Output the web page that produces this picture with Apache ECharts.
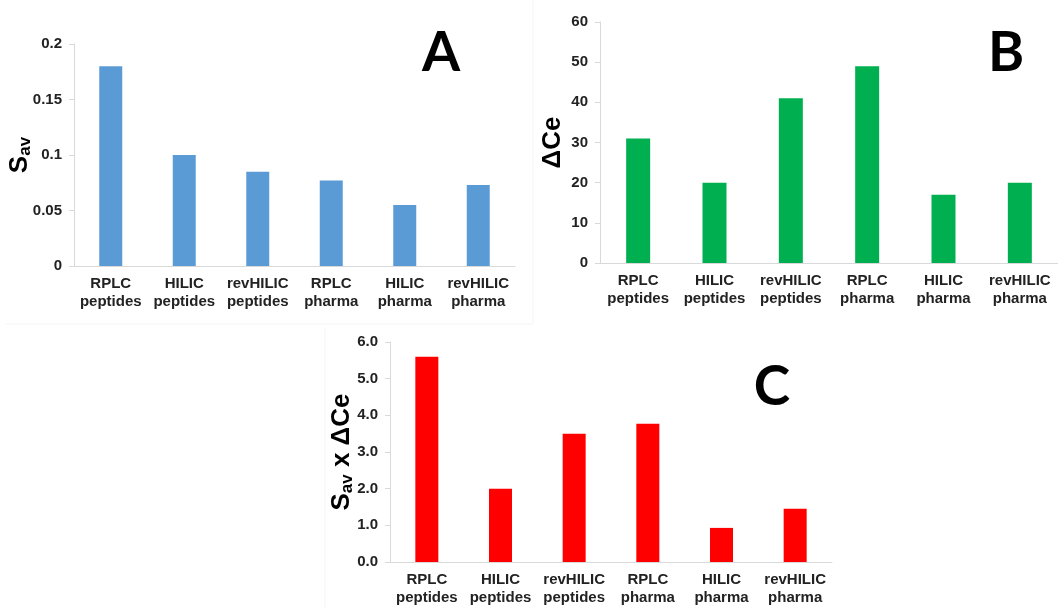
<!DOCTYPE html>
<html>
<head>
<meta charset="utf-8">
<script src="https://cdn.jsdelivr.net/npm/echarts@6/dist/echarts.min.js"></script>
<style>
  html, body { margin: 0; padding: 0; background: #fff; }
  #chart { width: 1058px; height: 607px; }
</style>
</head>
<body>
<div id="chart"></div>
<script>
const categories = ['RPLC\npeptides', 'HILIC\npeptides', 'revHILIC\npeptides', 'RPLC\npharma', 'HILIC\npharma', 'revHILIC\npharma']
const sav = [0.18, 0.10, 0.085, 0.077, 0.055, 0.073]
const deltaCe = [31, 20, 41, 49, 17, 20]
const savTimesCe = [5.6, 2.0, 3.5, 3.77, 0.93, 1.45]
const panelLetters = ['A', 'B', 'C']

const chart = echarts.init(document.getElementById('chart'))

const labelFont = { fontFamily: 'Liberation Sans, Arial, sans-serif', fontWeight: 'bold', fontSize: 15, color: '#222' }
const axisGray = '#d9d9d9'

const grids = [
  { left: 74, top: 44, width: 441, height: 222 },
  { left: 600, top: 22, width: 458, height: 241 },
  { left: 390, top: 342, width: 442, height: 222 }
]

const makeX = (i) => ({
  type: 'category',
  gridIndex: i,
  data: categories,
  axisLine: { lineStyle: { color: axisGray, width: 1 } },
  axisTick: { show: false },
  axisLabel: { ...labelFont, interval: 0, margin: 9, lineHeight: 18 }
})

const nameRich = {
  s: { fontFamily: 'Liberation Sans, Arial', fontWeight: 'bold', fontSize: 26, color: '#000' },
  sub: { fontFamily: 'Liberation Sans, Arial', fontWeight: 'bold', fontSize: 17, color: '#000', padding: [12, 0, 0, 0] }
}

const makeY = (i, max, interval, name, gap, fmt) => ({
  type: 'value',
  gridIndex: i,
  min: 0,
  max: max,
  interval: interval,
  name: name,
  nameLocation: 'middle',
  nameRotate: 90,
  nameGap: gap,
  nameMoveOverlap: false,
  nameTextStyle: { rich: nameRich, fontFamily: 'Liberation Sans, Arial', fontWeight: 'bold', fontSize: 26, color: '#000' },
  axisLine: { show: true, lineStyle: { color: axisGray, width: 1 } },
  axisTick: { show: true, length: 5, lineStyle: { color: axisGray } },
  splitLine: { show: false },
  axisLabel: { ...labelFont, margin: 12, formatter: fmt }
})

const options = {
  backgroundColor: '#fff',
  animation: false,
  grid: grids,
  xAxis: [makeX(0), makeX(1), makeX(2)],
  yAxis: [
    makeY(0, 0.2, 0.05, '{s|S}{sub|av}', 40, (v) => String(+v.toFixed(2))),
    makeY(1, 60, 10, '{s|ΔCe}', 34, (v) => String(v)),
    makeY(2, 6, 1, '{s|S}{sub|av}{s| x ΔCe}', 34, (v) => v.toFixed(1))
  ],
  series: [
    { type: 'bar', xAxisIndex: 0, yAxisIndex: 0, data: sav, barWidth: 23, itemStyle: { color: '#5b9bd5' } },
    { type: 'bar', xAxisIndex: 1, yAxisIndex: 1, data: deltaCe, barWidth: 24, itemStyle: { color: '#00b050' } },
    { type: 'bar', xAxisIndex: 2, yAxisIndex: 2, data: savTimesCe, barWidth: 23, itemStyle: { color: '#ff0000' } }
  ],
  graphic: [
    // faint panel edges from the original figure
    { type: 'line', shape: { x1: 533, y1: 0, x2: 533, y2: 323 }, style: { stroke: '#f5f5f5', lineWidth: 1 } },
    { type: 'line', shape: { x1: 5, y1: 324, x2: 533, y2: 324 }, style: { stroke: '#f5f5f5', lineWidth: 1 } },
    { type: 'line', shape: { x1: 325, y1: 327, x2: 325, y2: 607 }, style: { stroke: '#f5f5f5', lineWidth: 1 } },
    // panel letters
    { type: 'text', x: 441, y: 53, style: { text: panelLetters[0], font: 'bold 55px Lato, "Open Sans", sans-serif', fill: '#000', align: 'center', verticalAlign: 'middle' } },
    { type: 'text', x: 1006, y: 53, style: { text: panelLetters[1], font: 'bold 55px Lato, "Open Sans", sans-serif', fill: '#000', align: 'center', verticalAlign: 'middle' } },
    { type: 'text', x: 772, y: 387, style: { text: panelLetters[2], font: 'bold 55px Lato, "Open Sans", sans-serif', fill: '#000', align: 'center', verticalAlign: 'middle' } }
  ]
}

chart.setOption(options)
</script>
</body>
</html>
